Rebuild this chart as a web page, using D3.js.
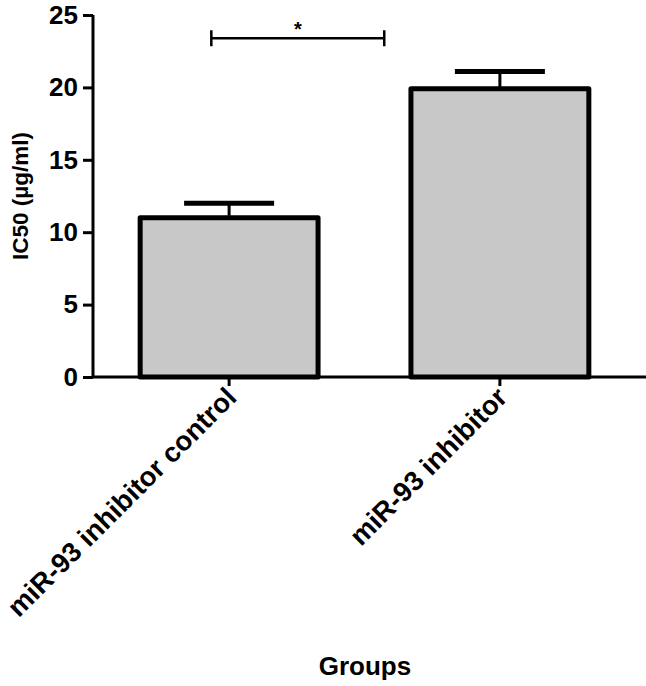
<!DOCTYPE html>
<html>
<head>
<meta charset="utf-8">
<script src="https://cdn.jsdelivr.net/npm/d3@7"></script>
<style>
  body { margin: 0; background: #fff; }
  text { font-family: "Liberation Sans", Arial, sans-serif; font-weight: bold; }
</style>
</head>
<body>
<div id="chart"></div>
<script>
var groups = ["miR-93 inhibitor control", "miR-93 inhibitor"];
var ic50 = [11.0, 19.9];
var ic50Err = [1.0, 1.2];
var yTicks = [0, 5, 10, 15, 20, 25];
var sigLevel = 23.4;
var sigLabel = "*";

var width = 646, height = 686;

var svg = d3.select("#chart")
  .append("svg")
  .attr("width", width)
  .attr("height", height);

var x = d3.scaleBand()
  .domain(groups)
  .range([86, 643])
  .paddingInner(0.343)
  .paddingOuter(0.2);

var y = d3.scaleLinear()
  .domain([0, 25])
  .range([377, 15]);

var data = groups.map((g, i) => ({ name: g, value: ic50[i], err: ic50Err[i] }));

// bars
svg.selectAll("rect.bar")
  .data(data)
  .enter()
  .append("rect")
  .attr("class", "bar")
  .attr("x", d => x(d.name))
  .attr("y", d => y(d.value))
  .attr("width", x.bandwidth())
  .attr("height", d => y(0) - y(d.value))
  .attr("fill", "#c8c8c8")
  .attr("stroke", "#000")
  .attr("stroke-width", 5)
  .attr("stroke-linejoin", "round");

// error bars
var cx = d => x(d.name) + x.bandwidth() / 2;
svg.selectAll("line.stem")
  .data(data)
  .enter()
  .append("line")
  .attr("x1", cx).attr("x2", cx)
  .attr("y1", d => y(d.value) - 2)
  .attr("y2", d => y(d.value + d.err))
  .attr("stroke", "#000")
  .attr("stroke-width", 3);

svg.selectAll("line.cap")
  .data(data)
  .enter()
  .append("line")
  .attr("x1", d => cx(d) - 45).attr("x2", d => cx(d) + 45)
  .attr("y1", d => y(d.value + d.err))
  .attr("y2", d => y(d.value + d.err))
  .attr("stroke", "#000")
  .attr("stroke-width", 5);

// y axis
var yAxis = svg.append("g")
  .attr("transform", "translate(93,0)")
  .call(d3.axisLeft(y).tickValues(yTicks).tickSize(10).tickPadding(5));
yAxis.select(".domain").attr("stroke-width", 3).attr("d", "M0," + y(25) + "V" + y(0));
yAxis.selectAll(".tick line").attr("stroke-width", 3);
yAxis.selectAll(".tick text")
  .attr("font-size", 26)
  .attr("font-family", "Liberation Sans, Arial, sans-serif")
  .attr("font-weight", "bold")
  .attr("fill", "#000");

// x axis
var xAxis = svg.append("g")
  .attr("transform", "translate(0," + y(0) + ")")
  .call(d3.axisBottom(x).tickSize(9).tickSizeOuter(0).tickFormat(""));
xAxis.select(".domain").attr("stroke-width", 3).attr("d", "M92,0H646");
xAxis.selectAll(".tick line").attr("stroke-width", 3);

svg.selectAll("text.cat")
  .data(groups)
  .enter()
  .append("text")
  .attr("class", "cat")
  .attr("text-anchor", "end")
  .attr("font-size", 27.5)
  .attr("transform", d => "translate(" + (x(d) + x.bandwidth() / 2 + 9) + "," + (y(0) + 22) + ") rotate(-45)")
  .text(d => d);

// titles
svg.append("text")
  .attr("text-anchor", "middle")
  .attr("font-size", 22.5)
  .attr("transform", "translate(28," + y(12.5) + ") rotate(-90)")
  .text("IC50 (µg/ml)");

svg.append("text")
  .attr("text-anchor", "middle")
  .attr("font-size", 26)
  .attr("x", 365)
  .attr("y", 675)
  .text("Groups");

// significance bracket
var bx1 = x(groups[0]) + x.bandwidth() * 0.4;
var bx2 = x(groups[1]) - x.bandwidth() * 0.15;
var by = y(sigLevel);
svg.append("path")
  .attr("d", "M" + bx1 + "," + (by - 8) + "V" + (by + 8) + "M" + bx1 + "," + by + "H" + bx2 + "M" + bx2 + "," + (by - 8) + "V" + (by + 8))
  .attr("stroke", "#000")
  .attr("stroke-width", 2.5)
  .attr("fill", "none");
svg.append("text")
  .attr("text-anchor", "middle")
  .attr("font-size", 20)
  .attr("font-weight", "normal")
  .attr("x", (bx1 + bx2) / 2)
  .attr("y", by - 2)
  .text(sigLabel);
</script>
</body>
</html>
